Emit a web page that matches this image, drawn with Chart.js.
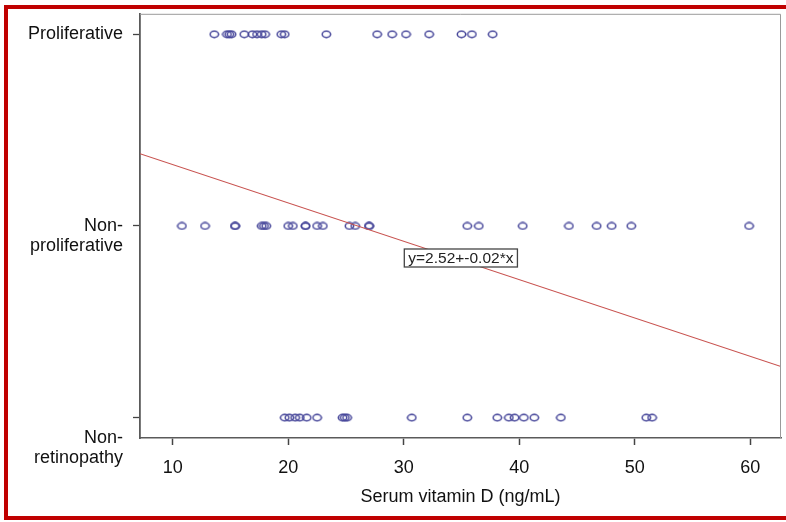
<!DOCTYPE html>
<html>
<head>
<meta charset="utf-8">
<script src="https://cdn.jsdelivr.net/npm/chart.js@4.4.1/dist/chart.umd.min.js"></script>
<style>
  html, body { margin: 0; padding: 0; background: #fff; }
  #wrap  { position: relative; width: 786px; height: 522px; overflow: hidden; }
  #frame { position: absolute; left: 4px; top: 5px; width: 800px; height: 507px;
           border: 4px solid #c00000; border-right: none; }
  canvas { position: absolute; left: 0; top: 0; }
</style>
</head>
<body>
<div id="wrap">
  <div id="frame"></div>
  <canvas id="chart" width="786" height="522"></canvas>
</div>
<script>
// Retinopathy grade (1 = Non-retinopathy, 2 = Non-proliferative, 3 = Proliferative)
const yTicks  = [1, 2, 3];
const yLabels = [['Non-', 'retinopathy'], ['Non-', 'proliferative'], ['Proliferative']];
const xTicks  = [10, 20, 30, 40, 50, 60];

// Serum vitamin D (ng/mL) per patient
const proliferativeX = [13.6, 14.7, 14.9, 15.1, 16.2, 16.9, 17.3, 17.7, 18.0, 19.4, 19.7,
                        23.3, 27.7, 29.0, 30.2, 32.2, 35.0, 35.9, 37.7];
const nonProliferativeX = [10.8, 12.8, 15.4, 15.4, 17.7, 17.9, 18.1, 20.0, 20.4, 21.5, 21.5,
                           22.5, 23.0, 25.3, 25.8, 27.0, 27.0, 35.5, 36.5, 40.3, 44.3,
                           46.7, 48.0, 49.7, 59.9];
const nonRetinopathyX = [19.7, 20.1, 20.6, 21.0, 21.6, 22.5, 24.7, 24.9, 25.1, 30.7, 35.5,
                         38.1, 39.1, 39.6, 40.4, 41.3, 43.6, 51.0, 51.5];

// Fitted line y = 2.52 + -0.02*x, end points at the axis limits
const fitX = [7.17, 62.66];
const fitY = [2.377, 1.267];
const fitLabel = 'y=2.52+-0.02*x';

const toPts = (xs, y) => xs.map(x => ({ x, y }));

// small open ellipse used as the marker
const marker = document.createElement('canvas');
marker.width = 11;
marker.height = 9;
(() => {
  const c = marker.getContext('2d');
  c.strokeStyle = '#47479a';
  c.lineWidth = 1.5;
  c.beginPath();
  c.ellipse(5.5, 4.5, 4.2, 3.2, 0, 0, Math.PI * 2);
  c.stroke();
})();

const pointStyle = {
  pointStyle: marker,
  pointRadius: 4,
  showLine: false,
};

const decor = {
  id: 'decor',
  afterDraw(chart) {
    const { ctx, chartArea: a, scales: { x, y } } = chart;
    ctx.save();

    // light top / right edges of the plot frame
    ctx.strokeStyle = '#9a9a9a';
    ctx.lineWidth = 1;
    ctx.beginPath();
    ctx.moveTo(a.left, a.top + 0.5);
    ctx.lineTo(a.right - 0.5, a.top + 0.5);
    ctx.lineTo(a.right - 0.5, a.bottom);
    ctx.stroke();

    // category labels (multi-line ones hang below their tick)
    ctx.font = '18px "Liberation Sans", Arial, sans-serif';
    ctx.fillStyle = '#111';
    ctx.textAlign = 'right';
    ctx.textBaseline = 'middle';
    const shift = [20, 0, 0];
    yTicks.forEach((v, i) => {
      const py = y.getPixelForValue(v) + shift[i];
      yLabels[i].forEach((line, k) => ctx.fillText(line, 123, py + k * 20));
    });

    // equation box
    const bx = x.getPixelForValue(30.05);
    const by = y.getPixelForValue(1.88);
    ctx.font = '15.5px "Liberation Sans", Arial, sans-serif';
    const w = ctx.measureText(fitLabel).width + 8;
    const h = 18;
    ctx.fillStyle = '#fff';
    ctx.fillRect(bx, by, w, h);
    ctx.strokeStyle = '#444';
    ctx.lineWidth = 1.3;
    ctx.strokeRect(bx, by, w, h);
    ctx.fillStyle = '#222';
    ctx.textAlign = 'left';
    ctx.fillText(fitLabel, bx + 4, by + h / 2 + 1);

    ctx.restore();
  },
};

new Chart(document.getElementById('chart'), {
  type: 'scatter',
  data: {
    datasets: [
      {
        label: 'fit',
        data: fitX.map((x, i) => ({ x, y: fitY[i] })),
        showLine: true,
        borderColor: '#c8524f',
        borderWidth: 1.1,
        pointRadius: 0,
      },
      { label: 'Proliferative',     data: toPts(proliferativeX, 3),    ...pointStyle },
      { label: 'Non-proliferative', data: toPts(nonProliferativeX, 2), ...pointStyle },
      { label: 'Non-retinopathy',   data: toPts(nonRetinopathyX, 1),   ...pointStyle },
    ],
  },
  options: {
    responsive: false,
    animation: false,
    layout: { padding: { left: 0, top: 13, right: 3, bottom: 0 } },
    plugins: { legend: { display: false }, tooltip: { enabled: false } },
    scales: {
      x: {
        type: 'linear',
        min: 7.17,
        max: 62.66,
        afterBuildTicks: s => { s.ticks = xTicks.map(value => ({ value })); },
        afterFit: s => { s.height = 84; },
        grid:   { drawOnChartArea: false, drawTicks: true, tickLength: 7, color: '#444', tickWidth: 1.5 },
        border: { display: true, color: '#5a5a5a', width: 1.6 },
        ticks:  { color: '#111', padding: 12, font: { family: '"Liberation Sans", Arial', size: 18 } },
        title:  {
          display: true,
          text: 'Serum vitamin D (ng/mL)',
          color: '#111',
          padding: { top: 0, bottom: 14 },
          font: { family: '"Liberation Sans", Arial', size: 18 },
        },
      },
      y: {
        type: 'linear',
        min: 0.894,
        max: 3.107,
        afterBuildTicks: s => { s.ticks = yTicks.map(value => ({ value })); },
        afterFit: s => { s.width = 140; },
        grid:   { drawOnChartArea: false, drawTicks: true, tickLength: 7, color: '#444', tickWidth: 1.3 },
        border: { display: true, color: '#5a5a5a', width: 1.8 },
        ticks:  { callback: () => '', font: { size: 18 } },
      },
    },
  },
  plugins: [decor],
});
</script>
</body>
</html>
